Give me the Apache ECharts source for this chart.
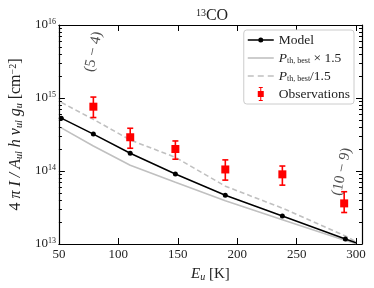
<!DOCTYPE html>
<html><head><meta charset="utf-8">
<script src="https://cdn.jsdelivr.net/npm/echarts@6/dist/echarts.min.js"></script>
<style>html,body{margin:0;padding:0;background:#fff}#c{width:374px;height:288px}</style>
</head><body><div id="c"></div>
<script>
// ---- data ----
const modelX = [52, 79, 110, 148, 190, 238, 291, 300];
const modelY = [5.3e14, 3.2e14, 1.75e14, 9.1e13, 4.65e13, 2.42e13, 1.17e13, 1.04e13];
const hiX = [52, 79, 110, 148, 190, 238, 291, 300];
const hiY = [3.9e14, 2.2e14, 1.2e14, 7.0e13, 3.9e13, 2.15e13, 1.12e13, 1.02e13];   // P_th,best x 1.5
const loX = [52, 79, 110, 148, 190, 238, 291, 300];
const loY = [8.7e14, 5.1e14, 2.66e14, 1.54e14, 6.2e13, 3.1e13, 1.29e13, 1.07e13];   // P_th,best / 1.5
const obsX = [79, 110, 148, 190, 238, 290];
const obsY = [7.6e14, 2.9e14, 2.0e14, 1.05e14, 9.0e13, 3.6e13];
const obsLow = [5.4e14, 2.05e14, 1.45e14, 7.5e13, 6.4e13, 2.7e13];
const obsHigh = [1.03e15, 3.85e14, 2.58e14, 1.42e14, 1.17e14, 5.2e13];
const annotX = [79, 288];
const annotY = [4.3e15, 9.8e13];
const annotText = ['(5 \u2212 4)', '(10 \u2212 9)'];
const xTicks = [50, 100, 150, 200, 250, 300];
const yMinor = [];
[13, 14, 15].forEach(e => { for (let m = 2; m <= 9; m++) yMinor.push(m * Math.pow(10, e)); });

const F = 'Liberation Serif, DejaVu Serif, serif';
const C = '#222';
const rich = {
  it: {fontFamily: F, fontStyle: 'italic', fontSize: 16, color: C},
  n: {fontFamily: F, fontSize: 16, color: C},
  sub: {fontFamily: F, fontStyle: 'italic', fontSize: 10, color: C, verticalAlign: 'bottom', padding: [6, 0, 0, 0]},
  sup: {fontFamily: F, fontSize: 10, color: C, verticalAlign: 'top', padding: [0, 0, 6, 0]}
};
const xrich = {
  it: {fontFamily: F, fontStyle: 'italic', fontSize: 15, color: C},
  n: {fontFamily: F, fontSize: 15, color: C},
  sub: {fontFamily: F, fontStyle: 'italic', fontSize: 10, color: C, verticalAlign: 'bottom', padding: [6, 0, 0, 0]}
};
const tickRich = {
  b: {fontFamily: F, fontSize: 13, color: C},
  sup: {fontFamily: F, fontSize: 8, color: C, verticalAlign: 'top', padding: [0, 0, 6, 0]}
};

const minorLog = yMinor.map(v => Math.log10(v));
function yAx(pos, minor) {
  const base = {
    position: pos, gridIndex: 0,
    axisLine: {show: !minor, lineStyle: {color: '#000', width: 1.2}},
    axisTick: {show: true, inside: true, length: minor ? 3 : 6, lineStyle: {color: '#000', width: 1}},
    splitLine: {show: false},
  };
  if (minor) {
    return Object.assign(base, {type: 'value', min: 13, max: 16,
      axisTick: Object.assign(base.axisTick, {customValues: minorLog}),
      axisLabel: {show: false}});
  }
  return Object.assign(base, {type: 'log', logBase: 10, min: 1e13, max: 1e16, splitNumber: 3,
    axisLabel: {show: pos === 'left', margin: 3,
      formatter: v => '{b|10}{sup|' + Math.round(Math.log10(v)) + '}', rich: tickRich}});
}

const yAxes = [yAx('left', false), yAx('left', true), yAx('right', false), yAx('right', true)];
yAxes[0].name = '{n|4}{it| \u03C0 I / A}{sub|ul}{it| h \u03BD}{sub|ul}{it| g}{sub|u}{n| [cm}{sup|\u22122}{n|]}';
yAxes[0].nameLocation = 'middle';
yAxes[0].nameGap = 29;
yAxes[0].nameTextStyle = {rich: rich, fontFamily: F, fontSize: 16, color: C};

function xAx(pos) {
  return {type: 'value', position: pos, min: 50, max: 305,
    axisLine: {show: true, lineStyle: {color: '#000', width: 1.2}},
    axisTick: {show: true, inside: true, length: 6, customValues: xTicks, lineStyle: {color: '#000', width: 1}},
    axisLabel: {show: pos === 'bottom', customValues: xTicks, margin: 4, fontFamily: F, fontSize: 13, color: C},
    splitLine: {show: false}};
}
const xAxes = [xAx('bottom'), xAx('top')];
xAxes[0].name = '{it|E}{sub|u}{n| [K]}';
xAxes[0].nameLocation = 'middle';
xAxes[0].nameGap = 22;
xAxes[0].nameTextStyle = {rich: xrich, fontFamily: F, fontSize: 15, color: C};

const zip = (a, b) => a.map((v, i) => [v, b[i]]);
const modelData = modelX.map((x, i) => i === modelX.length - 1 ? {value: [x, modelY[i]], symbol: 'none'} : [x, modelY[i]]);
const obsPath = 'path://M3,0H7V1H5.5V4H8V10H5.5V13H7V14H3V13H4.5V10H2V4H4.5V1H3Z';
const modelPath = 'path://M0,2.2H26V3.8H0Z M10.5,3a2.5,2.5 0 1,1 5,0a2.5,2.5 0 1,1 -5,0Z';
const solidPath = 'path://M0,0H26V1.6H0Z';
const dashPath = 'path://M0,0H6V1.6H0Z M10,0H16V1.6H10Z M20,0H26V1.6H20Z';

const chart = echarts.init(document.getElementById('c'), null, {renderer: 'canvas'});
chart.setOption({
  animation: false,
  backgroundColor: '#fff',
  title: {text: '{s|13}{t|CO}', left: 207, textAlign: 'center', top: 3,
    textStyle: {fontWeight: 'normal', rich: {s: {fontFamily: F, fontWeight: 'normal', fontSize: 10, color: C, verticalAlign: 'top', padding: [0, 0, 6, 0]},
      t: {fontFamily: F, fontWeight: 'normal', fontSize: 16, color: C}}}},
  grid: {left: 54, right: 12, top: 25, bottom: 44},
  xAxis: xAxes,
  yAxis: yAxes,
  legend: {
    orient: 'vertical', right: 20, top: 30, itemWidth: 26, itemHeight: 14, itemGap: 4,
    backgroundColor: '#fff', borderColor: '#ccc', borderWidth: 1, borderRadius: 3, padding: [3, 4, 3, 4],
    data: [
      {name: 'Model', icon: modelPath},
      {name: 'hi', icon: solidPath},
      {name: 'lo', icon: dashPath},
      {name: 'Observations', icon: obsPath}
    ],
    formatter: n => ({
      Model: '{n|Model}',
      hi: '{it|P}{subr|th, best}{n| \u00D7 1.5}',
      lo: '{it|P}{subr|th, best}{n|/1.5}',
      Observations: '{n|Observations}'
    })[n],
    textStyle: {rich: {
      n: {fontFamily: F, fontSize: 13.5, color: C},
      it: {fontFamily: F, fontStyle: 'italic', fontSize: 13.5, color: C},
      subr: {fontFamily: F, fontSize: 8, color: C, verticalAlign: 'bottom', padding: [5, 0, 0, 0]}
    }}
  },
  series: [
    {name: 'hi', type: 'line', data: zip(hiX, hiY), symbol: 'none', z: 2,
      lineStyle: {color: '#c0c0c0', width: 1.6}, itemStyle: {color: '#c0c0c0'}},
    {name: 'lo', type: 'line', data: zip(loX, loY), symbol: 'none', z: 2,
      lineStyle: {color: '#c0c0c0', width: 1.6, type: [5, 3]}, itemStyle: {color: '#c0c0c0'}},
    {name: 'Model', type: 'line', data: modelData, symbol: 'circle', symbolSize: 5, z: 3,
      lineStyle: {color: '#000', width: 1.5}, itemStyle: {color: '#000'}},
    {name: 'Observations', type: 'scatter', data: zip(obsX, obsY), symbol: 'rect', symbolSize: 8, z: 5,
      symbolKeepAspect: true, itemStyle: {color: '#ff0000', opacity: 1}},
    {name: 'err', type: 'custom', z: 4,
      data: obsX.map((x, i) => [x, obsLow[i], obsHigh[i]]),
      renderItem: (params, api) => {
        const lo = api.coord([api.value(0), api.value(1)]);
        const hi = api.coord([api.value(0), api.value(2)]);
        const st = {stroke: '#ff0000', lineWidth: 1.6};
        return {type: 'group', children: [
          {type: 'line', shape: {x1: lo[0], y1: lo[1], x2: hi[0], y2: hi[1]}, style: st},
          {type: 'line', shape: {x1: lo[0] - 3, y1: lo[1], x2: lo[0] + 3, y2: lo[1]}, style: st},
          {type: 'line', shape: {x1: hi[0] - 3, y1: hi[1], x2: hi[0] + 3, y2: hi[1]}, style: st}
        ]};
      }},
    {name: 'annot', type: 'scatter', symbolSize: 0, z: 6, silent: true,
      data: annotX.map((x, i) => [x, annotY[i], annotText[i]]),
      label: {show: true, position: 'inside', rotate: 78, formatter: p => p.data[2],
        fontFamily: F, fontSize: 15, color: C}}
  ]
});
</script></body></html>
